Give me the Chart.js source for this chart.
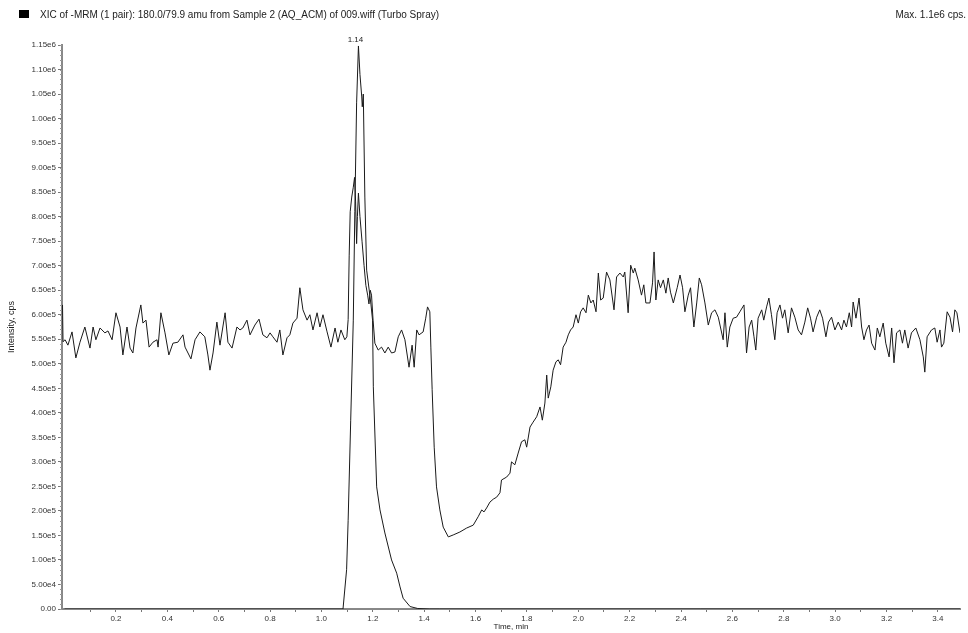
<!DOCTYPE html>
<html>
<head>
<meta charset="utf-8">
<script src="https://cdn.jsdelivr.net/npm/chart.js@4.4.0/dist/chart.umd.min.js"></script>
<style>
  html, body { margin: 0; padding: 0; background: #fff; }
  #wrap { width: 968px; height: 633px; position: relative; }
</style>
</head>
<body>
<div id="wrap"><canvas id="xic"></canvas></div>
<script>
const titleText = 'XIC of -MRM (1 pair): 180.0/79.9 amu from Sample 2 (AQ_ACM) of 009.wiff (Turbo Spray)'
const maxText = 'Max. 1.1e6 cps.'
const peakLabel = '1.14'

// x ticks every 0.1 min, labels only on the even ones
const xTickValues = [0.1, 0.2, 0.3, 0.4, 0.5, 0.6, 0.7, 0.8, 0.9, 1.0, 1.1, 1.2, 1.3, 1.4, 1.5, 1.6, 1.7,
  1.8, 1.9, 2.0, 2.1, 2.2, 2.3, 2.4, 2.5, 2.6, 2.7, 2.8, 2.9, 3.0, 3.1, 3.2, 3.3, 3.4]
const xTickLabels = ['0.2', '0.4', '0.6', '0.8', '1.0', '1.2', '1.4', '1.6', '1.8', '2.0', '2.2', '2.4',
  '2.6', '2.8', '3.0', '3.2', '3.4']

// intensities are kept in units of 1e5 cps
const yTickValues = [0, 0.5, 1, 1.5, 2, 2.5, 3, 3.5, 4, 4.5, 5, 5.5, 6, 6.5, 7, 7.5, 8, 8.5, 9, 9.5, 10,
  10.5, 11, 11.5]
const yTickLabels = ['0.00', '5.00e4', '1.00e5', '1.50e5', '2.00e5', '2.50e5', '3.00e5', '3.50e5',
  '4.00e5', '4.50e5', '5.00e5', '5.50e5', '6.00e5', '6.50e5', '7.00e5', '7.50e5', '8.00e5', '8.50e5',
  '9.00e5', '9.50e5', '1.00e6', '1.05e6', '1.10e6', '1.15e6']

// analyte peak (1.14 min)
const analyteTime = [0, 1.084, 1.098, 1.104, 1.114, 1.124, 1.130, 1.137, 1.144, 1.150, 1.157, 1.159,
  1.163, 1.169, 1.176, 1.186, 1.193, 1.199, 1.202, 1.215, 1.228, 1.247, 1.273, 1.293, 1.306, 1.318,
  1.345, 1.375, 1.42, 1.46, 3.49]
const analyteE5 = [0, 0, 0.80, 1.81, 3.85, 5.89, 8.10, 10.32, 11.48, 10.90, 10.44, 10.24, 10.50, 8.40,
  6.91, 6.50, 6.20, 5.89, 4.53, 2.49, 2.02, 1.55, 1.00, 0.73, 0.45, 0.22, 0.05, 0.01, 0, 0, 0]

// infused matrix trace
const matrixTime = [-0.008, -0.006, 0.002, 0.013, 0.029, 0.044, 0.060, 0.079, 0.099, 0.111, 0.122,
  0.138, 0.157, 0.169, 0.185, 0.200, 0.216, 0.227, 0.243, 0.255, 0.266, 0.278, 0.297, 0.305, 0.317,
  0.329, 0.344, 0.360, 0.364, 0.375, 0.391, 0.406, 0.422, 0.441, 0.461, 0.469, 0.492, 0.508, 0.527,
  0.546, 0.558, 0.566, 0.578, 0.593, 0.605, 0.625, 0.636, 0.652, 0.671, 0.683, 0.694, 0.710, 0.722,
  0.741, 0.757, 0.772, 0.788, 0.800, 0.811, 0.827, 0.838, 0.850, 0.866, 0.877, 0.889, 0.905, 0.916,
  0.928, 0.944, 0.955, 0.967, 0.983, 0.994, 1.006, 1.022, 1.037, 1.053, 1.064, 1.076, 1.091,
  1.099, 1.104, 1.108, 1.112, 1.118, 1.124, 1.129, 1.133, 1.137, 1.140, 1.144, 1.150, 1.158, 1.166,
  1.173, 1.180, 1.185, 1.190, 1.195, 1.201, 1.208,
  1.221, 1.234, 1.247, 1.260, 1.273, 1.286, 1.299, 1.312, 1.325, 1.341, 1.353, 1.361, 1.371, 1.380,
  1.396, 1.406, 1.413, 1.422, 1.426, 1.431, 1.439, 1.448, 1.461, 1.474, 1.494, 1.513, 1.539, 1.565,
  1.591, 1.610, 1.624, 1.633, 1.643, 1.656, 1.669, 1.682, 1.695, 1.701, 1.721, 1.734, 1.740, 1.753,
  1.766, 1.779, 1.792, 1.799, 1.812, 1.824, 1.838, 1.851, 1.860, 1.870, 1.877, 1.883, 1.893, 1.902,
  1.913, 1.922, 1.931, 1.941, 1.952, 1.961, 1.970, 1.980, 1.991, 2.000, 2.009, 2.019, 2.030, 2.039,
  2.049, 2.058, 2.069, 2.078, 2.087, 2.097, 2.110, 2.123, 2.139, 2.149, 2.162, 2.175, 2.181, 2.194,
  2.204, 2.214, 2.220, 2.233, 2.246, 2.255, 2.263, 2.279, 2.289, 2.295, 2.302, 2.311, 2.320, 2.331,
  2.341, 2.350, 2.359, 2.370, 2.385, 2.396, 2.406, 2.415, 2.428, 2.437, 2.450, 2.461, 2.471, 2.480,
  2.493, 2.506, 2.519, 2.532, 2.545, 2.564, 2.571, 2.580, 2.590, 2.603, 2.616, 2.629, 2.645, 2.655,
  2.665, 2.675, 2.684, 2.691, 2.700, 2.714, 2.722, 2.733, 2.742, 2.752, 2.765, 2.774, 2.785, 2.795,
  2.804, 2.817, 2.830, 2.843, 2.856, 2.869, 2.882, 2.893, 2.904, 2.914, 2.928, 2.940, 2.951, 2.964,
  2.974, 2.986, 2.999, 3.012, 3.025, 3.034, 3.044, 3.055, 3.064, 3.070, 3.081, 3.093, 3.103, 3.112,
  3.122, 3.132, 3.142, 3.155, 3.164, 3.174, 3.187, 3.197, 3.210, 3.220, 3.229, 3.239, 3.252, 3.262,
  3.271, 3.284, 3.297, 3.314, 3.330, 3.343, 3.349, 3.358, 3.375, 3.388, 3.397, 3.408, 3.414, 3.423,
  3.436, 3.447, 3.457, 3.466, 3.474, 3.486]
const matrixE5 = [6.20, 5.45, 5.49, 5.38, 5.65, 5.12, 5.44, 5.75, 5.32, 5.75, 5.49,
  5.73, 5.63, 5.67, 5.49, 6.04, 5.75, 5.18, 5.75, 5.32, 5.22, 5.73, 6.20, 5.83, 5.89,
  5.34, 5.44, 5.49, 5.34, 6.04, 5.63, 5.18, 5.42, 5.44, 5.59, 5.34, 5.10, 5.49, 5.65,
  5.55, 5.18, 4.87, 5.22, 5.85, 5.38, 6.04, 5.44, 5.32, 5.75, 5.69, 5.73, 5.89, 5.59,
  5.79, 5.91, 5.59, 5.53, 5.63, 5.55, 5.44, 5.69, 5.18, 5.53, 5.59, 5.83, 5.93, 6.55,
  6.10, 5.89, 6.00, 5.69, 6.04, 5.75, 6.00, 5.65, 5.34, 5.73, 5.44, 5.69, 5.49,
  5.55, 5.90, 7.20, 8.10, 8.40, 8.60, 8.80, 8.30, 7.45, 8.00, 8.48, 8.00, 7.50, 7.00,
  6.60, 6.40, 6.22, 6.50, 6.40, 5.89, 5.42,
  5.28, 5.34, 5.22, 5.34, 5.22, 5.24, 5.55, 5.69, 5.49, 4.93, 5.38, 4.93, 5.69, 5.59,
  5.65, 5.93, 6.16, 6.06, 5.34, 4.47, 3.30, 2.49, 2.02, 1.67, 1.47, 1.51, 1.57, 1.65,
  1.71, 1.88, 2.02, 1.98, 2.06, 2.18, 2.24, 2.28, 2.37, 2.63, 2.69, 2.77, 3.00, 2.94,
  3.18, 3.41, 3.45, 3.30, 3.71, 3.81, 3.92, 4.12, 3.85, 4.20, 4.77, 4.30, 4.53, 4.87,
  5.04, 5.08, 4.98, 5.34, 5.44, 5.59, 5.69, 5.75, 6.00, 5.83, 6.06, 6.14, 6.04, 6.40,
  6.24, 6.30, 6.06, 6.85, 6.30, 6.34, 6.87, 6.71, 6.10, 6.77, 6.85, 6.77, 6.87, 6.04,
  7.01, 6.85, 6.95, 6.71, 6.40, 6.61, 6.24, 6.24, 6.65, 7.28, 6.30, 6.71, 6.55, 6.71,
  6.44, 6.75, 6.46, 6.24, 6.55, 6.81, 6.55, 6.06, 6.40, 6.55, 5.75, 6.24, 6.75, 6.61,
  6.24, 5.79, 6.04, 6.10, 5.95, 5.49, 6.04, 5.34, 5.75, 5.93, 5.95, 6.06, 6.20, 5.22,
  5.75, 5.89, 5.55, 5.28, 5.93, 6.10, 5.89, 6.16, 6.34, 6.00, 5.49, 6.04, 6.20, 5.93,
  6.10, 5.63, 6.14, 5.95, 5.69, 5.59, 5.85, 6.14, 5.93, 5.65, 5.95, 6.10, 5.93, 5.55,
  5.85, 5.95, 5.69, 5.85, 5.69, 5.89, 5.75, 6.04, 5.75, 6.26, 5.93, 6.34, 5.75, 5.49,
  5.69, 5.79, 5.42, 5.28, 5.73, 5.55, 5.83, 5.42, 5.14, 5.73, 5.02, 5.63, 5.69, 5.42,
  5.69, 5.32, 5.63, 5.73, 5.49, 5.14, 4.83, 5.55, 5.69, 5.73, 5.44, 5.69, 5.34, 5.42,
  6.06, 5.95, 5.65, 6.10, 6.04, 5.63]

const fontFamily = '"Liberation Sans", Arial, sans-serif'
const peakIndex = analyteE5.indexOf(Math.max(...analyteE5))

const headerText = {
  id: 'headerText',
  afterDraw(chart) {
    const { ctx, scales } = chart
    ctx.save()
    ctx.fillStyle = '#000'
    ctx.fillRect(19, 10, 10, 8)
    ctx.fillStyle = '#222'
    ctx.font = '10px ' + fontFamily
    ctx.textBaseline = 'middle'
    ctx.textAlign = 'left'
    ctx.fillText(titleText, 40, 15)
    ctx.textAlign = 'right'
    ctx.fillText(maxText, 966, 15)
    // retention time over the apex
    const px = scales.x.getPixelForValue(analyteTime[peakIndex])
    const py = scales.y.getPixelForValue(analyteE5[peakIndex])
    ctx.font = '8px ' + fontFamily
    ctx.textAlign = 'center'
    ctx.textBaseline = 'bottom'
    ctx.fillText(peakLabel, px - 3, py - 2)
    ctx.restore()
  },
}

// dense little ticks on the intensity axis
const yRuler = {
  id: 'yRuler',
  afterDraw(chart) {
    const { ctx, chartArea, scales } = chart
    ctx.save()
    ctx.strokeStyle = '#999'
    ctx.lineWidth = 1
    ctx.beginPath()
    for (let v = 0; v <= 11.501; v += 0.1) {
      const py = Math.round(scales.y.getPixelForValue(v)) + 0.5
      ctx.moveTo(chartArea.left - 2, py)
      ctx.lineTo(chartArea.left, py)
    }
    ctx.stroke()
    ctx.restore()
  },
}

const ctx = document.getElementById('xic').getContext('2d')
// eslint-disable-next-line no-unused-vars
const xicChart = new Chart(ctx, {
  type: 'line',
  data: {
    datasets: [
      {
        label: 'matrix',
        data: matrixTime.map((t, i) => ({ x: t, y: matrixE5[i] })),
        borderColor: '#1a1a1a',
        borderWidth: 1,
        pointRadius: 0,
        tension: 0,
      },
      {
        label: 'analyte',
        data: analyteTime.map((t, i) => ({ x: t, y: analyteE5[i] })),
        borderColor: '#1a1a1a',
        borderWidth: 1,
        pointRadius: 0,
        tension: 0,
      },
    ],
  },
  options: {
    responsive: true,
    maintainAspectRatio: false,
    animation: false,
    layout: { padding: { top: 45, right: 8, left: 0, bottom: 0 } },
    scales: {
      x: {
        type: 'linear',
        min: -0.01,
        max: 3.486,
        afterBuildTicks: (scale) => {
          scale.ticks = xTickValues.map((v) => ({ value: v }))
        },
        afterFit: (scale) => {
          scale.height = 24
        },
        grid: { drawOnChartArea: false, tickLength: 3, tickColor: '#777' },
        border: { display: true, color: '#888', width: 2 },
        ticks: {
          autoSkip: false,
          maxRotation: 0,
          padding: 2,
          color: '#333',
          font: { size: 8, family: fontFamily },
          callback: (value) => {
            const s = Number(value).toFixed(1)
            return xTickLabels.includes(s) ? s : ''
          },
        },
        title: {
          display: true,
          text: 'Time, min',
          color: '#222',
          font: { size: 8, family: fontFamily },
          padding: { top: 0, bottom: 1 },
        },
      },
      y: {
        min: 0,
        max: 11.5,
        afterBuildTicks: (scale) => {
          scale.ticks = yTickValues.map((v) => ({ value: v }))
        },
        afterFit: (scale) => {
          scale.width = 62
        },
        grid: { drawOnChartArea: false, tickLength: 4, tickColor: '#777' },
        border: { display: true, color: '#888', width: 2 },
        ticks: {
          autoSkip: false,
          padding: 2,
          color: '#333',
          font: { size: 8, family: fontFamily },
          callback: (value) => yTickLabels[yTickValues.indexOf(value)],
        },
        title: {
          display: true,
          text: 'Intensity, cps',
          color: '#222',
          font: { size: 9, family: fontFamily },
          padding: { top: 6, bottom: 0 },
        },
      },
    },
    plugins: {
      legend: false,
      tooltip: false,
    },
  },
  plugins: [headerText, yRuler],
})
</script>
</body>
</html>
